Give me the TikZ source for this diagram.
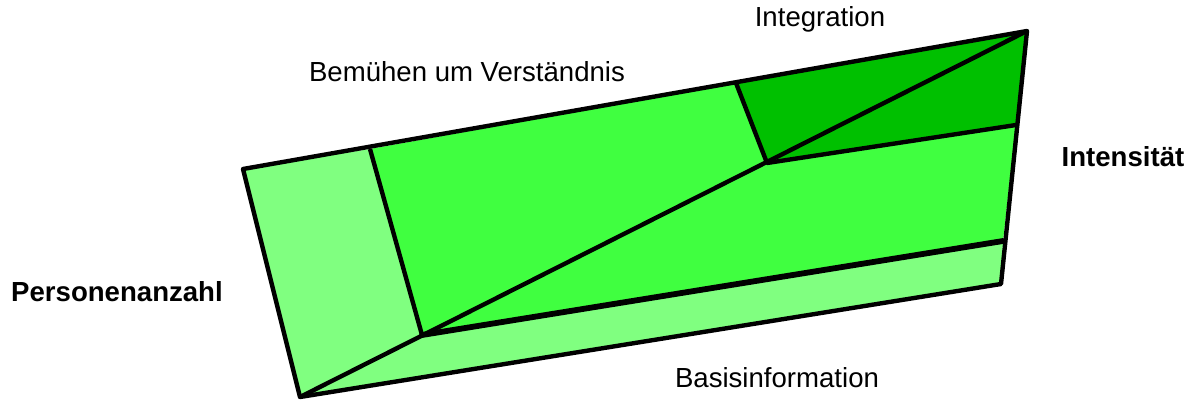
\documentclass[tikz,border=0pt]{standalone}
\usepackage{fontspec}
\setmainfont{Liberation Sans}
\usepackage{xcolor}
\usetikzlibrary{positioning,calc}
\definecolor{grlight}{HTML}{80FF80}
\definecolor{grmid}{HTML}{40FF40}
\definecolor{grdark}{HTML}{00C000}

\begin{document}
\begin{tikzpicture}[
  x=0.02cm, y=-0.02cm,
  facelight/.style={fill=grlight},
  facemid/.style={fill=grmid},
  facedark/.style={fill=grdark},
  edge/.style={draw=black, line width=2.5pt, line join=round},
  edgethick/.style={draw=black, line width=3.3pt, line cap=round},
  lbl/.style={font=\fontsize{15.7}{18}\selectfont, inner sep=0pt},
  lblbold/.style={lbl, font=\fontsize{15.7}{18}\selectfont\bfseries},
]
\useasboundingbox (0,0) rectangle (1201,403);
% corner points (pixel grid, y downwards)
\coordinate (tl) at (243,169);
\coordinate (tr) at (1027,31);
\coordinate (br) at (1001,284);
\coordinate (bl) at (300,397);
\coordinate (lt) at (370,149);
\coordinate (lb) at (422,335);
\coordinate (it) at (736,83);
\coordinate (ib) at (767,163);
\coordinate (ir) at (1016,125);
\coordinate (br2) at (1003,241);

% faces
\fill[facelight] (tl) -- (lt) -- (lb) -- (bl) -- cycle;
\fill[facelight] (bl) -- (lb) -- (br2) -- (br) -- cycle;
\fill[facemid] (lt) -- (it) -- (ib) -- (ir) -- (br2) -- (lb) -- cycle;
\fill[facedark] (it) -- (tr) -- (ir) -- (ib) -- cycle;

% edges
\draw[edge] (tl) -- (tr) -- (br) -- (bl) -- cycle;
\draw[edge] (lt) -- (lb);
\draw[edge] (it) -- (ib) -- (ir);
\draw[edge] (bl) -- (tr);
\draw[edgethick] (lb) -- (br2);

% labels
\node[lbl] (integ) at (820,19) {Integration};
\node[lbl] (bemuehen) at (467,72) {Bemühen um Verständnis};
\node[lblbold] (intens) at (1123,157) {Intensität};
\node[lblbold] (personen) at (117,292) {Personenanzahl};
\node[lbl] (basis) at (777,378) {Basisinformation};
\end{tikzpicture}
\end{document}
